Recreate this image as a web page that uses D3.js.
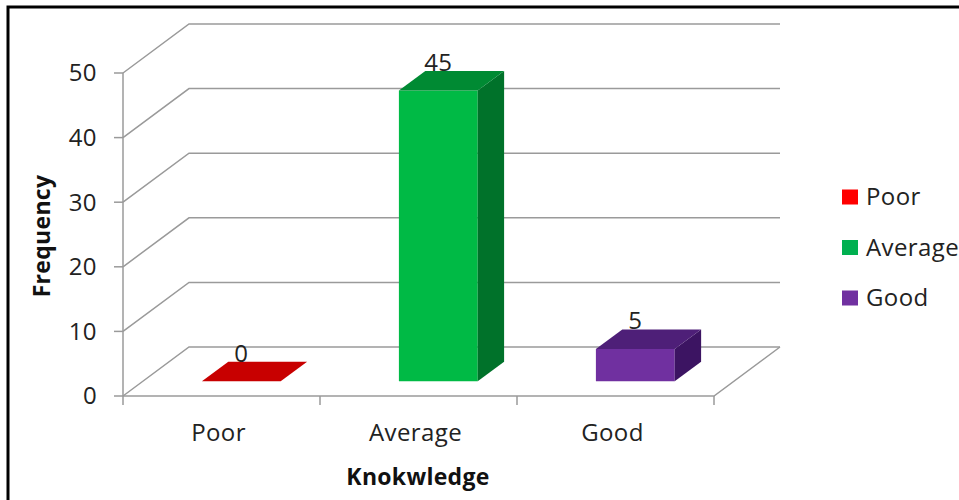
<!DOCTYPE html>
<html><head><meta charset="utf-8">
<script src="https://cdn.jsdelivr.net/npm/d3@7"></script>
<style>body{margin:0;background:#fff}svg{display:block}text{font-family:"Open Sans",sans-serif}</style>
</head><body><svg id="c" width="959" height="500"></svg>
<script>
const categories = ["Poor", "Average", "Good"];
const values = [0, 45, 5];
const yTicks = [0, 10, 20, 30, 40, 50];
const colors = {
  front: ["#E00000", "#00BA45", "#7030A0"],
  top:   ["#C80000", "#008A33", "#4E1F78"],
  side:  ["#A00000", "#00722A", "#3C1462"],
  legend:["#FF0000", "#00B050", "#7030A0"]
};

const svg = d3.select("#c");
const DX = 66, DY = 49;           // depth offset of back wall
const y = d3.scaleLinear().domain([0, 50]).range([396, 73]);
const x = d3.scaleBand().domain(categories).range([123, 714]).paddingInner(0).paddingOuter(0);
const fFront = 0.3, fBack = 0.7, barFrac = 0.4;
const FS = 24, LS = "0.4px";

// border
svg.append("rect").attr("x", 8).attr("y", 7).attr("width", 1200).attr("height", 1200)
  .attr("fill", "none").attr("stroke", "#000").attr("stroke-width", 3);

const grid = svg.append("g").attr("stroke", "#9a9a9a").attr("stroke-width", 1.5).attr("fill", "none");
yTicks.forEach(t => {
  const y0 = y(t);
  grid.append("path").attr("d", `M${x.range()[0]},${y0}L${x.range()[0] + DX},${y0 - DY}L${x.range()[1] + DX},${y0 - DY}`);
});
grid.append("path").attr("d", `M${x.range()[0]},${y(0)}L${x.range()[1]},${y(0)}L${x.range()[1] + DX},${y(0) - DY}`);
grid.append("line").attr("x1", 123).attr("x2", 123).attr("y1", y(0)).attr("y2", y(50));
yTicks.forEach(t => {
  grid.append("line").attr("x1", 114).attr("x2", 123).attr("y1", y(t)).attr("y2", y(t));
});
const xTickPos = categories.map(c => x(c)).concat([x.range()[1]]);
xTickPos.forEach(p => grid.append("line").attr("x1", p).attr("x2", p).attr("y1", y(0)).attr("y2", y(0) + 9));

// y tick labels
svg.append("g").selectAll("text").data(yTicks).join("text")
  .attr("x", 97).attr("y", d => y(d)).attr("dy", "0.35em").attr("text-anchor", "end")
  .attr("font-size", FS).attr("letter-spacing", LS).attr("fill", "#222").text(d => d);

// x labels
svg.append("g").selectAll("text").data(categories).join("text")
  .attr("x", d => x(d) + x.bandwidth() / 2 - 3).attr("y", 433).attr("dy", "0.35em").attr("text-anchor", "middle")
  .attr("font-size", FS).attr("letter-spacing", LS).attr("fill", "#222").text(d => d);

// axis titles
svg.append("text").attr("x", 418).attr("y", 477).attr("dy", "0.35em").attr("text-anchor", "middle")
  .attr("font-size", 23).attr("letter-spacing", "0.3px").attr("font-weight", "bold").attr("fill", "#111").text("Knokwledge");
svg.append("text").attr("transform", "translate(42,236) rotate(-90)").attr("dy", "0.35em").attr("text-anchor", "middle")
  .attr("font-size", 23).attr("letter-spacing", "0.3px").attr("font-weight", "bold").attr("fill", "#111").text("Frequency");

// bars
const bars = svg.append("g");
categories.forEach((c, i) => {
  const v = values[i];
  const w = x.bandwidth() * barFrac;
  const x0 = x(c) + (x.bandwidth() - w) / 2 + DX * fFront;
  const x1 = x0 + w;
  const yb = y(0) - DY * fFront;
  const yt = y(v) - DY * fFront;
  const ddx = DX * (fBack - fFront), ddy = DY * (fBack - fFront);
  if (v > 0) {
    bars.append("path").attr("fill", colors.front[i])
      .attr("d", `M${x0},${yb}L${x1},${yb}L${x1},${yt}L${x0},${yt}Z`);
    bars.append("path").attr("fill", colors.side[i])
      .attr("d", `M${x1},${yb}L${x1 + ddx},${yb - ddy}L${x1 + ddx},${yt - ddy}L${x1},${yt}Z`);
  }
  bars.append("path").attr("fill", colors.top[i])
    .attr("d", `M${x0},${yt}L${x1},${yt}L${x1 + ddx},${yt - ddy}L${x0 + ddx},${yt - ddy}Z`);
  bars.append("text").attr("x", (x0 + x1) / 2).attr("y", yt - ddy).attr("text-anchor", "middle")
    .attr("font-size", FS).attr("letter-spacing", LS).attr("fill", "#222").text(v);
});

// legend
const lg = svg.append("g");
categories.forEach((c, i) => {
  const cy = 197 + i * 50.5;
  lg.append("rect").attr("x", 842).attr("y", cy - 7.5).attr("width", 16).attr("height", 15).attr("fill", colors.legend[i]);
  lg.append("text").attr("x", 866).attr("y", cy).attr("dy", "0.35em").attr("font-size", FS).attr("letter-spacing", LS).attr("fill", "#222").text(c);
});
</script></body></html>
